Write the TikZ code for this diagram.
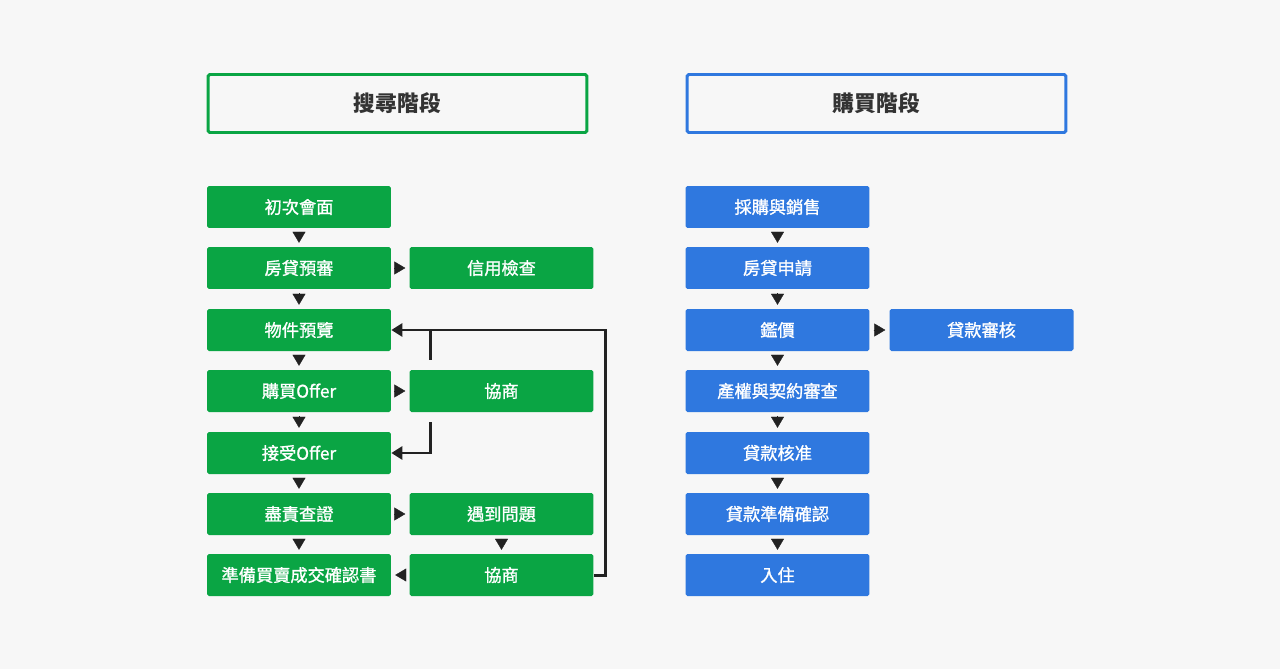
\documentclass[tikz,border=0pt]{standalone}
\usepackage{fontspec}
\setmainfont{Noto Sans CJK TC}
\newfontfamily\boxfont[FakeBold=1.2]{Noto Sans CJK TC}
\usetikzlibrary{arrows.meta,calc}
\definecolor{bgGray}{HTML}{F7F7F7}
\definecolor{searchGreen}{HTML}{0AA544}
\definecolor{buyBlue}{HTML}{2F78DF}
\definecolor{arrowDark}{HTML}{222222}
\definecolor{titleText}{HTML}{333333}

\begin{document}
\begin{tikzpicture}[x=0.02cm,y=-0.02cm,
    stagebox/.style={minimum width=7.58cm,minimum height=1.16cm,line width=3pt*0.567,
        rounded corners=1pt,text=titleText,font=\fontsize{12.4}{14}\selectfont\bfseries},
    greenbox/.style={fill=searchGreen,minimum width=3.68cm,minimum height=0.84cm,
        rounded corners=1pt,text=white,font=\fontsize{9.8}{11}\selectfont\boxfont},
    bluebox/.style={greenbox,fill=buyBlue},
    tri/.style={draw=arrowDark,fill=arrowDark,line width=0.2pt,
        -{Triangle[length=0.22cm,width=0.26cm]},shorten <=2.2pt,shorten >=2.2pt},
    link/.style={draw=arrowDark,line width=1.7pt},
    linkarrow/.style={link,-{Triangle[length=0.22cm,width=0.26cm]}}]

    % background and margins
    \fill[bgGray] (0,0) rectangle (1280,669);

    % the two stage headers
    \node[stagebox,draw=searchGreen] (searchStage) at (397.5,103.5) {搜尋階段};
    \node[stagebox,draw=buyBlue] (buyStage) at (876.5,103.5) {購買階段};

    % search stage, main column
    \node[greenbox] (meet) at (299,207) {初次會面};
    \node[greenbox] (prequal) at (299,268) {房貸預審};
    \node[greenbox] (preview) at (299,330) {物件預覽};
    \node[greenbox] (offer) at (299,391) {購買Offer};
    \node[greenbox] (accept) at (299,453) {接受Offer};
    \node[greenbox] (diligence) at (299,514) {盡責查證};
    \node[greenbox] (closing) at (299,575) {準備買賣成交確認書};

    % search stage, side column
    \node[greenbox] (credit) at (501.5,268) {信用檢查};
    \node[greenbox] (nego1) at (501.5,391) {協商};
    \node[greenbox] (issue) at (501.5,514) {遇到問題};
    \node[greenbox] (nego2) at (501.5,575) {協商};

    % buying stage
    \node[bluebox] (sales) at (777.5,207) {採購與銷售};
    \node[bluebox] (apply) at (777.5,268) {房貸申請};
    \node[bluebox] (appraise) at (777.5,330) {鑑價};
    \node[bluebox] (title) at (777.5,391) {產權與契約審查};
    \node[bluebox] (approve) at (777.5,453) {貸款核准};
    \node[bluebox] (ready) at (777.5,514) {貸款準備確認};
    \node[bluebox] (movein) at (777.5,575) {入住};
    \node[bluebox] (review) at (981.5,330) {貸款審核};

    % small triangles between the steps
    \draw[tri] (meet.south) -- (prequal.north);
    \draw[tri] (prequal.south) -- (preview.north);
    \draw[tri] (preview.south) -- (offer.north);
    \draw[tri] (offer.south) -- (accept.north);
    \draw[tri] (accept.south) -- (diligence.north);
    \draw[tri] (diligence.south) -- (closing.north);
    \draw[tri] (prequal.east) -- (credit.west);
    \draw[tri] (offer.east) -- (nego1.west);
    \draw[tri] (diligence.east) -- (issue.west);
    \draw[tri] (issue.south) -- (nego2.north);
    \draw[tri] (nego2.west) -- (closing.east);

    \draw[tri] (sales.south) -- (apply.north);
    \draw[tri] (apply.south) -- (appraise.north);
    \draw[tri] (appraise.south) -- (title.north);
    \draw[tri] (title.south) -- (approve.north);
    \draw[tri] (approve.south) -- (ready.north);
    \draw[tri] (ready.south) -- (movein.north);
    \draw[tri] (appraise.east) -- (review.west);

    % loops back from the negotiations
    \coordinate (loopRight) at (605,330);
    \draw[linkarrow] (nego2.east) -| (loopRight) -- (preview.east);
    \coordinate (negoUp) at ($(nego1.north west)+(21,-10)$);
    \draw[link] (negoUp) -- (negoUp |- preview.east);
    \coordinate (negoDown) at ($(nego1.south west)+(21,10)$);
    \draw[linkarrow] (negoDown) |- (accept.east);

\end{tikzpicture}
\end{document}
